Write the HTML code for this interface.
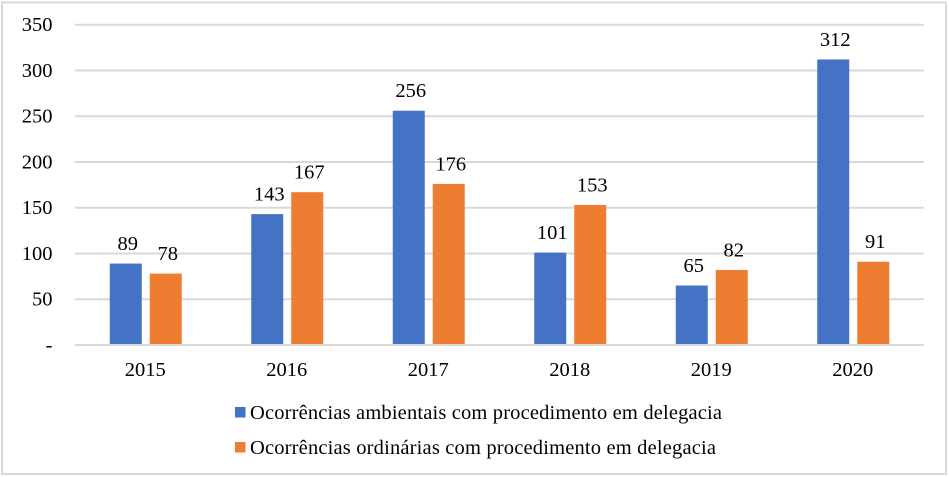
<!DOCTYPE html>
<html lang="pt">
<head>
<meta charset="utf-8">
<title>Ocorrências com procedimento em delegacia</title>
<style>
html,body{margin:0;padding:0;background:#fff;width:949px;height:477px;overflow:hidden}
svg{display:block}
text{font-family:"Liberation Serif",serif;font-size:20.5px;fill:#000}
</style>
</head>
<body>
<svg id="chart" width="949" height="477" viewBox="0 0 949 477" xmlns="http://www.w3.org/2000/svg">
<rect x="2" y="2.5" width="944" height="471.5" fill="#fff" stroke="#d9d9d9" stroke-width="2"/>
<g id="grid"></g><g id="bars"></g><g id="labels"></g><g id="legend"></g>
</svg>
<script>
const categories = ['2015','2016','2017','2018','2019','2020'];
const ambientais = [89,143,256,101,65,312];
const ordinarias = [78,167,176,153,82,91];
const yTicks = [0,50,100,150,200,250,300,350];
const yTickLabels = ['-','50','100','150','200','250','300','350'];
const seriesNames = ['Ocorrências ambientais com procedimento em delegacia','Ocorrências ordinárias com procedimento em delegacia'];
const seriesColors = ['#4472c4','#ed7d31'];

const NS = 'http://www.w3.org/2000/svg';
const left = 75, right = 924, y0 = 345, yTop = 24.7, yMax = 350;
const y = v => y0 - (v / yMax) * (y0 - yTop);
const band = (right - left) / categories.length;
const cx = i => left + band * (i + 0.5);
const make = (tag, attrs, parent, txt) => {
  const el = document.createElementNS(NS, tag);
  for (const k in attrs) el.setAttribute(k, attrs[k]);
  if (txt !== undefined) el.textContent = txt;
  parent.appendChild(el);
  return el;
};
const grid = document.getElementById('grid');
const bars = document.getElementById('bars');
const labels = document.getElementById('labels');
const legend = document.getElementById('legend');

yTicks.forEach((t, i) => {
  const line = make('line', {x1: left, x2: right, y1: y(t), y2: y(t), stroke: '#d9d9d9', 'stroke-width': 2}, grid);
  
  
  const lab = make('text', {x: 52.5, y: y(t) + 6.5, 'text-anchor': 'end'}, labels, yTickLabels[i]);
  
  
});

const barW = 32;
[ambientais, ordinarias].forEach((series, s) => {
  series.forEach((v, i) => {
    const x = s === 0 ? cx(i) - 36 : cx(i) + 4;
    const r = make('rect', {x: x, y: y(v), width: barW, height: y0 - 1 - y(v), fill: seriesColors[s]}, bars);
    
    
    const t = make('text', {x: x + barW / 2 + 2, y: y(v) - 13.5, 'text-anchor': 'middle'}, labels, String(v));
    
    
  });
});

categories.forEach((c, i) => {
  const t = make('text', {x: cx(i) - 0.5, y: 376, 'text-anchor': 'middle'}, labels, c);
  
  
});

const legendRows = [{sy: 407, ty: 419, w: 472}, {sy: 442, ty: 454, w: 466}];
seriesNames.forEach((n, s) => {
  const row = legendRows[s];
  const sw = make('rect', {x: 235, y: row.sy, width: 10.5, height: 10.5, fill: seriesColors[s]}, legend);
  
  
  const t = make('text', {x: 250, y: row.ty, textLength: row.w, lengthAdjust: 'spacing'}, legend, n);
  
  
});
</script>
</body>
</html>
